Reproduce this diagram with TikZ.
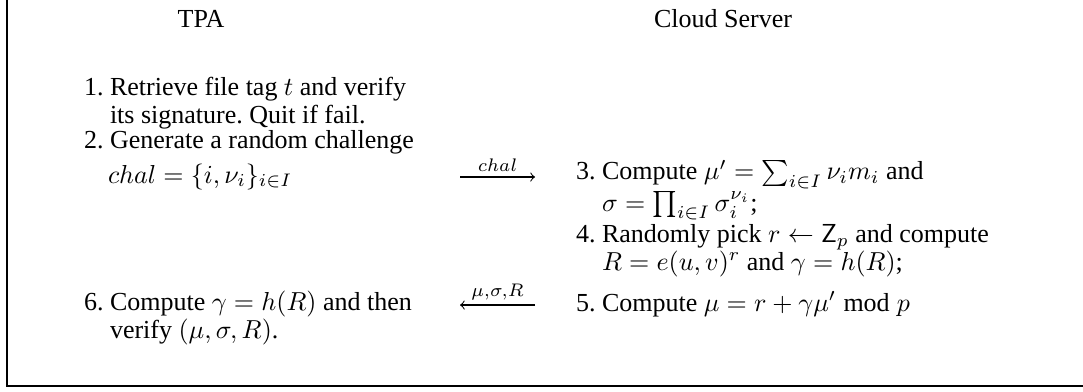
\documentclass[tikz,border=0pt]{standalone}
\usepackage{amsmath, amssymb}
\usepackage{fontspec}
\setmainfont{Liberation Serif}
\usetikzlibrary{arrows,positioning}
\frenchspacing

\begin{document}
\begin{tikzpicture}[x=0.3846pt, y=-0.3846pt,
    every node/.style={inner sep=0pt, outer sep=0pt, anchor=base west, align=left,
                       font=\fontsize{10}{10.6}\selectfont}]
      \useasboundingbox (0,0) rectangle (1083,391);
      \draw[line width=1pt] (7,0) -- (7,386) -- (1083,386);

      % the two parties
      \node[anchor=base] (tpa) at (201,27) {TPA};
      \node[anchor=base] (cs) at (723,27) {Cloud Server};

      % TPA side (multi-line nodes sit on their last line)
      \node[] (s1) at (84,123) {1. Retrieve file tag $t$ and verify\\\hphantom{1.~}its signature. Quit if fail.};
      \node[] (s2) at (84,148) {2. Generate a random challenge};
      \node[] (ch) at (108,183) {$chal = \{i,\nu_i\}_{i\in I}$};
      \node[] (s6) at (84,338) {6. Compute $\gamma = h(R)$ and then\\\hphantom{6.~}verify $(\mu,\sigma,R)$.};

      % server side
      \node[] (s3) at (576,211) {3. Compute $\mu' = \sum_{i\in I}\nu_i m_i$ and\\\hphantom{3.~}$\sigma = \prod_{i\in I}\sigma_i^{\nu_i}$;};
      \node[] (s4) at (576,270) {4. Randomly pick $r \leftarrow \mathsf{Z}_p$ and compute\\\hphantom{4.~}$R = e(u,v)^r$ and $\gamma = h(R)$;};
      \node[] (s5) at (576,311) {5. Compute $\mu = r + \gamma\mu' \bmod p$};

      % messages
      \coordinate (m1) at (460,177);
      \coordinate (m2) at (535,177);
      \coordinate (m3) at (535,305);
      \coordinate (m4) at (460,305);
      \draw[->] (m1) -- node[above=2pt] {$\scriptstyle chal$} (m2);
      \draw[->] (m3) -- node[above=2pt] {$\scriptstyle \mu,\sigma,R$} (m4);
    \end{tikzpicture}
\end{document}
